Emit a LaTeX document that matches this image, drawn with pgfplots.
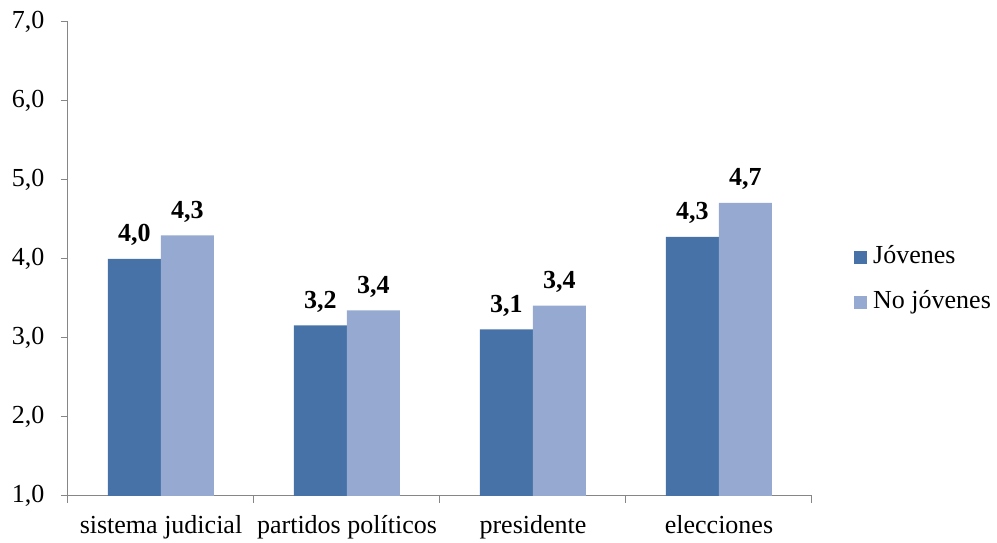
\documentclass[border=0pt]{standalone}
\usepackage{fontspec}
\setmainfont{Liberation Serif}
\usepackage{pgfplots}
\pgfplotsset{compat=1.18}

\definecolor{jov}{HTML}{4672A8}
\definecolor{nojov}{HTML}{95A9D1}
\definecolor{axgray}{HTML}{868686}

\begin{document}
\begin{tikzpicture}[font=\fontsize{26}{30}\selectfont]
\begin{axis}[
    at={(0pt,0pt)}, anchor=south west,
    scale only axis, width=744pt, height=474pt,
    ybar=0pt, bar width=53pt,
    xmin=-0.5, xmax=3.5, ymin=1, ymax=7,
    axis lines*=left,
    axis line style={axgray, line width=1pt},
    tick style={axgray, line width=1pt},
    tick align=outside, major tick length=7pt,
    xtick={-0.5,0.5,1.5,2.5,3.5},
    xticklabels={sistema judicial, partidos políticos, presidente, elecciones},
    x tick label as interval,
    xticklabel style={yshift=-9pt},
    ytick={1,2,...,7},
    yticklabel style={xshift=-13pt},
    /pgf/number format/fixed,
    /pgf/number format/fixed zerofill,
    /pgf/number format/precision=1,
    /pgf/number format/use comma,
    /pgf/number format/assume math mode=true,
    nodes near coords,
    every node near coord/.append style={anchor=base, yshift=17pt, font=\fontsize{26}{30}\selectfont\bfseries},
    legend style={at={(1,0.456)}, anchor=west, xshift=42pt, draw=none, fill=none,
        inner sep=0pt, column sep=6pt, row sep=21pt,
        nodes={inner sep=0pt, text height=18pt, text depth=6pt}},
    legend cell align=left,
    legend image code/.code={\draw[#1, draw=none] (0pt,-6.5pt) rectangle (13pt,6.5pt);},
]
\addplot[fill=jov, draw=none] coordinates {(0,4.00) (1,3.16) (2,3.11) (3,4.28)};
\addplot[fill=nojov, draw=none] coordinates {(0,4.30) (1,3.35) (2,3.41) (3,4.71)};
\legend{Jóvenes, No jóvenes}
\end{axis}
\path (-68pt,-46pt) rectangle (929pt,496pt);
\end{tikzpicture}
\end{document}
